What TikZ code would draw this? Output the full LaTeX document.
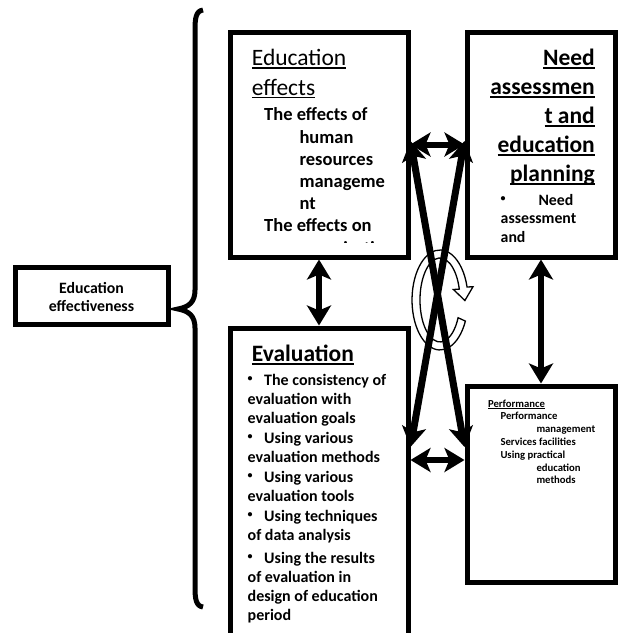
\documentclass[tikz,border=0pt]{standalone}
\usepackage{fontspec}
\setmainfont{Carlito}
\usetikzlibrary{arrows.meta,positioning}

\newsavebox\ulbx
\newcommand{\ulword}[1]{\sbox\ulbx{#1}\rlap{\rule[-0.14em]{\wd\ulbx}{0.065em}}\usebox\ulbx}
\newcommand{\smallbul}{\raisebox{0.2em}{\fontsize{10}{10}\selectfont •}}
\newcommand{\bul}{\makebox[16.5pt][l]{\smallbul}}

\tikzset{
  box/.style={draw, line width=5pt, inner sep=0pt, fill=white},
  lbl/.style={inner sep=0pt, anchor=base west, align=left},
  dblarrow/.style={{Stealth[length=20pt,width=24pt,inset=5pt]}-{Stealth[length=20pt,width=24pt,inset=5pt]}, line width=6pt},
}

\begin{document}
\begin{tikzpicture}[x=1pt,y=-1pt]
  \useasboundingbox (0,0) rectangle (618,633);
  \clip (0,0) rectangle (618,633);
  \fill[white] (0,0) rectangle (618,633);

  % brace
  \draw[line width=5pt] (203,10) .. controls (196,11) and (195,18) .. (195,30) -- (195,290)
    .. controls (195,302) and (189,307) .. (178,309) .. controls (189,311) and (195,316) .. (195,328)
    -- (195,587) .. controls (195,599) and (196,606) .. (203,607);

  % boxes
  \node[box, minimum width=153pt, minimum height=56.5pt] (effness) at (91.5,296) {};
  \node[box, minimum width=178pt, minimum height=225pt] (effects) at (319,144.5) {};
  \node[box, minimum width=148pt, minimum height=225pt] (needs) at (541,144.5) {};
  \node[box, minimum width=178pt, minimum height=317pt] (eval) at (319,486.5) {};
  \node[box, minimum width=148pt, minimum height=196pt] (perf) at (541,484) {};

  % texts (anchored on the baseline of their last line)
  \node[inner sep=0pt, anchor=base, align=center, font=\bfseries\fontsize{15.8}{18.4}\selectfont] (effness-txt) at (91.5,311.7) {Education\\effectiveness};

  \node[lbl, font=\fontsize{23.5}{29.3}\selectfont] (effects-ttl) at (251.7,95) {\ulword{Education}\\\ulword{effects}};
  \begin{scope}
    \clip (232,34) rectangle (406,242.5);
    \node[lbl, font=\bfseries\fontsize{18.5}{22.2}\selectfont] (effects-txt) at (264,254)
      {The effects of\\\hspace*{35.3pt}human\\\hspace*{35.3pt}resources\\\hspace*{35.3pt}manageme\\\hspace*{35.3pt}nt\\The effects on\\\hspace*{35.3pt}organization};
  \end{scope}

  \node[inner sep=0pt, anchor=base east, align=right, font=\bfseries\fontsize{23.5}{29}\selectfont] (needs-ttl) at (595,181.7)
    {\ulword{Need}\\\ulword{assessmen}\\\ulword{t and}\\\ulword{education}\\\ulword{planning}};
  \node[lbl, font=\bfseries\fontsize{15.8}{18.8}\selectfont] (needs-txt) at (500.5,242.6)
    {\makebox[37.8pt][l]{\smallbul}Need\\assessment\\and};

  \node[lbl, font=\bfseries\fontsize{23.5}{29}\selectfont] (eval-ttl) at (251.7,361.7) {\ulword{Evaluation}};
  \node[lbl, font=\bfseries\fontsize{16}{19}\selectfont] (eval-txt) at (247.5,620)
    {\bul The consistency of\\evaluation with\\evaluation goals\\[1pt]
     \bul Using various\\evaluation methods\\[1pt]
     \bul Using various\\evaluation tools\\[1pt]
     \bul Using techniques\\of data analysis\\[4pt]
     \bul Using the results\\of evaluation in\\design of education\\period};

  \node[lbl, font=\bfseries\fontsize{10.7}{12.8}\selectfont] (perf-txt) at (487.8,483.8)
    {\ulword{Performance}\\\hspace*{12.5pt}Performance\\\hspace*{48.5pt}management\\\hspace*{12.5pt}Services facilities\\
     \hspace*{12.5pt}Using practical\\\hspace*{48.5pt}education\\\hspace*{48.5pt}methods};

  % cycle arrow
  \draw[line width=1.3pt, fill=white] (465.4,321.1) arc[start angle=25, end angle=345, x radius=28, y radius=50]
    -- (473,286.7) -- (464.9,300.5) -- (453.4,289.5) -- (459.3,289.1)
    arc[start angle=345, end angle=25, x radius=20, y radius=42] -- cycle;

  % connectors
  \coordinate (xtop) at (440,141);
  \coordinate (xbot) at (440,447);
  \coordinate (low) at (440,460);
  \draw[dblarrow] (effects.south) -- (eval.north);
  \draw[dblarrow] (needs.south) -- (perf.north);
  \draw[dblarrow] (effects.east) -- (needs.west);
  \draw[dblarrow] (eval.east |- low) -- (perf.west |- low);
  \draw[dblarrow, line width=7pt] (effects.east |- xtop) -- (perf.west |- xbot);
  \draw[dblarrow, line width=7pt] (needs.west |- xtop) -- (eval.east |- xbot);
\end{tikzpicture}
\end{document}
